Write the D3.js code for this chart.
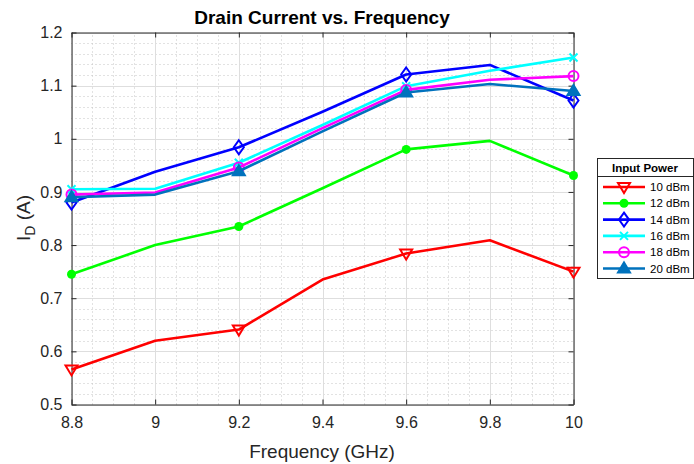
<!DOCTYPE html>
<html>
<head>
<meta charset="utf-8">
<script src="https://cdn.jsdelivr.net/npm/d3@7"></script>
<style>
  body { margin: 0; background: #fff; }
  text { font-family: "Liberation Sans", Arial, sans-serif; }
</style>
</head>
<body>
<div id="chart"></div>
<script>
// Data
var freqs = [8.8, 9.0, 9.2, 9.4, 9.6, 9.8, 10.0];
var seriesNames = ["10 dBm", "12 dBm", "14 dBm", "16 dBm", "18 dBm", "20 dBm"];
var p10 = [0.566, 0.620, 0.641, 0.735, 0.784, 0.809, 0.750];
var p12 = [0.745, 0.800, 0.835, 0.907, 0.980, 0.996, 0.931];
var p14 = [0.880, 0.938, 0.984, 1.051, 1.121, 1.139, 1.072];
var p16 = [0.905, 0.906, 0.955, 1.026, 1.099, 1.128, 1.153];
var p18 = [0.895, 0.899, 0.946, 1.020, 1.092, 1.111, 1.118];
var p20 = [0.890, 0.895, 0.939, 1.014, 1.087, 1.103, 1.090];
var xTicks = [8.8, 9, 9.2, 9.4, 9.6, 9.8, 10];
var yTicks = [0.5, 0.6, 0.7, 0.8, 0.9, 1, 1.1, 1.2];

var allSeries = [p10, p12, p14, p16, p18, p20];
var colors = ["#ff0000", "#00ff00", "#0000ff", "#00ffff", "#ff00ff", "#0072bd"];
var markers = ["tridown", "dot", "diamond", "cross", "circle", "triup"];
var markerIdx = [0, 2, 4, 6];

var W = 694, H = 464;

var svg = d3.select("#chart").append("svg")
    .attr("width", W)
    .attr("height", H);

var xScale = d3.scaleLinear().domain([8.8, 10]).range([71.5, 573.5]);
var yScale = d3.scaleLinear().domain([0.5, 1.2]).range([404.5, 32.5]);

// minor grid (dotted)
var xMinor = d3.range(8.8, 10.0001, 0.05).map(d => +d.toFixed(2));
var yMinor = d3.range(0.5, 1.2001, 0.02).map(d => +d.toFixed(2));

svg.append("g").selectAll("line")
    .data(xMinor)
    .enter().append("line")
    .attr("x1", d => Math.round(xScale(d)) + 0.5).attr("x2", d => Math.round(xScale(d)) + 0.5)
    .attr("y1", yScale(0.5)).attr("y2", yScale(1.2))
    .attr("stroke", "#c4c4c4").attr("stroke-width", 1).attr("stroke-dasharray", "1,3");

svg.append("g").selectAll("line")
    .data(yMinor)
    .enter().append("line")
    .attr("y1", d => Math.round(yScale(d)) + 0.5).attr("y2", d => Math.round(yScale(d)) + 0.5)
    .attr("x1", xScale(8.8)).attr("x2", xScale(10))
    .attr("stroke", "#c4c4c4").attr("stroke-width", 1).attr("stroke-dasharray", "1,3");

// major grid
svg.append("g").selectAll("line")
    .data(xTicks)
    .enter().append("line")
    .attr("x1", d => Math.round(xScale(d)) + 0.5).attr("x2", d => Math.round(xScale(d)) + 0.5)
    .attr("y1", yScale(0.5)).attr("y2", yScale(1.2))
    .attr("stroke", "#dedede").attr("stroke-width", 1);

svg.append("g").selectAll("line")
    .data(yTicks)
    .enter().append("line")
    .attr("y1", d => Math.round(yScale(d)) + 0.5).attr("y2", d => Math.round(yScale(d)) + 0.5)
    .attr("x1", xScale(8.8)).attr("x2", xScale(10))
    .attr("stroke", "#dedede").attr("stroke-width", 1);

// axes (ticks pointing inward, box on)
var fmt = d => String(d);

var xAxis = d3.axisBottom(xScale).tickValues(xTicks).tickSizeInner(-5).tickSizeOuter(0).tickPadding(12).tickFormat(fmt);
var yAxis = d3.axisLeft(yScale).tickValues(yTicks).tickSizeInner(-5).tickSizeOuter(0).tickPadding(9).tickFormat(fmt);

var gx = svg.append("g").attr("transform", "translate(0," + yScale(0.5) + ")").call(xAxis);
var gy = svg.append("g").attr("transform", "translate(" + xScale(8.8) + ",0)").call(yAxis);
var gxt = svg.append("g").attr("transform", "translate(0," + yScale(1.2) + ")")
    .call(d3.axisTop(xScale).tickValues(xTicks).tickSizeInner(-5).tickSizeOuter(0).tickFormat(""));
var gyr = svg.append("g").attr("transform", "translate(" + xScale(10) + ",0)")
    .call(d3.axisRight(yScale).tickValues(yTicks).tickSizeInner(-5).tickSizeOuter(0).tickFormat(""));

[gx, gy, gxt, gyr].forEach(function (g) {
    g.select(".domain").attr("stroke", "#262626");
    g.selectAll(".tick line").attr("stroke", "#262626");
    g.selectAll("text").attr("fill", "#262626").style("font-size", "16px")
        .style("font-family", "'Liberation Sans', Arial, sans-serif");
});

// lines
var line = d3.line()
    .x((d, i) => xScale(freqs[i]))
    .y(d => yScale(d));

function drawMarker(g, type, x, y, color) {
    if (type === "tridown") {
        g.append("path").attr("d", "M" + (x - 6) + "," + (y - 4) + "L" + (x + 6) + "," + (y - 4) + "L" + x + "," + (y + 6) + "Z")
            .attr("fill", "none").attr("stroke", color).attr("stroke-width", 2);
    } else if (type === "triup") {
        g.append("path").attr("d", "M" + (x - 6) + "," + (y + 4) + "L" + (x + 6) + "," + (y + 4) + "L" + x + "," + (y - 6) + "Z")
            .attr("fill", color).attr("stroke", color).attr("stroke-width", 2);
    } else if (type === "dot") {
        g.append("circle").attr("cx", x).attr("cy", y).attr("r", 4.5).attr("fill", color);
    } else if (type === "circle") {
        g.append("circle").attr("cx", x).attr("cy", y).attr("r", 5)
            .attr("fill", "none").attr("stroke", color).attr("stroke-width", 2);
    } else if (type === "diamond") {
        g.append("path").attr("d", "M" + x + "," + (y - 7) + "L" + (x + 5) + "," + y + "L" + x + "," + (y + 7) + "L" + (x - 5) + "," + y + "Z")
            .attr("fill", "none").attr("stroke", color).attr("stroke-width", 2);
    } else if (type === "cross") {
        g.append("path").attr("d", "M" + (x - 4) + "," + (y - 4) + "L" + (x + 4) + "," + (y + 4) + "M" + (x + 4) + "," + (y - 4) + "L" + (x - 4) + "," + (y + 4))
            .attr("fill", "none").attr("stroke", color).attr("stroke-width", 2);
    }
}

allSeries.forEach(function (vals, s) {
    var g = svg.append("g");
    g.append("path")
        .datum(vals)
        .attr("fill", "none")
        .attr("stroke", colors[s])
        .attr("stroke-width", 2.6)
        .attr("stroke-linejoin", "round")
        .attr("d", line);
    markerIdx.forEach(function (i) {
        drawMarker(g, markers[s], xScale(freqs[i]), yScale(vals[i]), colors[s]);
    });
});

// title and labels
svg.append("text")
    .attr("x", 322).attr("y", 24)
    .attr("text-anchor", "middle")
    .style("font-size", "19px").style("font-weight", "bold")
    .attr("fill", "#000")
    .text("Drain Current vs. Frequency");

svg.append("text")
    .attr("x", 322).attr("y", 458)
    .attr("text-anchor", "middle")
    .style("font-size", "19px")
    .attr("fill", "#262626")
    .text("Frequency (GHz)");

var yl = svg.append("text")
    .attr("transform", "translate(30,218) rotate(-90)")
    .attr("text-anchor", "middle")
    .style("font-size", "19px")
    .attr("fill", "#262626");
yl.append("tspan").text("I");
yl.append("tspan").attr("dy", 5).style("font-size", "14px").text("D");
yl.append("tspan").attr("dy", -5).text(" (A)");

// legend
var lg = svg.append("g");
lg.append("rect")
    .attr("x", 597.5).attr("y", 158.5).attr("width", 96).attr("height", 120)
    .attr("fill", "#fff").attr("stroke", "#262626").attr("stroke-width", 1);
lg.append("line")
    .attr("x1", 597.5).attr("x2", 693.5).attr("y1", 176.5).attr("y2", 176.5)
    .attr("stroke", "#262626");
lg.append("text")
    .attr("x", 645).attr("y", 172)
    .attr("text-anchor", "middle")
    .style("font-size", "11.5px").style("font-weight", "bold")
    .attr("fill", "#000")
    .text("Input Power");

var legY = d3.scaleLinear().domain([0, 5]).range([187, 268.5]);
seriesNames.forEach(function (name, s) {
    var y = legY(s);
    lg.append("line")
        .attr("x1", 603).attr("x2", 645).attr("y1", y).attr("y2", y)
        .attr("stroke", colors[s]).attr("stroke-width", 2.6);
    drawMarker(lg, markers[s], 624, y, colors[s]);
    lg.append("text")
        .attr("x", 650).attr("y", y + 4)
        .style("font-size", "11.5px")
        .attr("fill", "#000")
        .text(name);
});
</script>
</body>
</html>
